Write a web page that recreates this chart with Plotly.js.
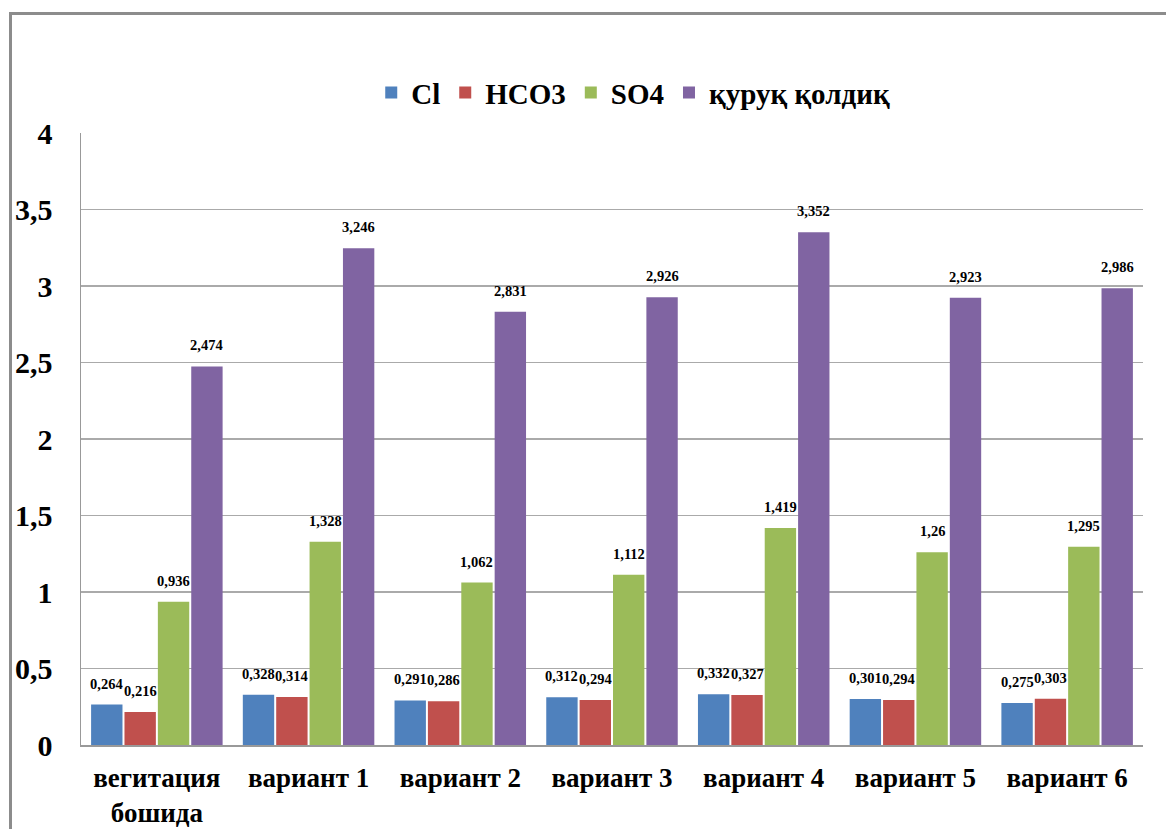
<!DOCTYPE html>
<html>
<head>
<meta charset="utf-8">
<script src="https://cdn.plot.ly/plotly-3.0.1.min.js"></script>
<style>
  html, body { margin: 0; padding: 0; background: #fff; overflow: hidden; }
  #frame { position: absolute; left: 9px; top: 12px; width: 1200px; height: 900px; border: 3px solid #8c8c8c; box-sizing: border-box; pointer-events: none; z-index: 5; }
  #chart { width: 1166px; height: 829px; }
</style>
</head>
<body>
<div id="frame"></div>
<div id="chart"></div>
<script>
const categories = ['вегитация<br>бошида', 'вариант 1', 'вариант 2', 'вариант 3', 'вариант 4', 'вариант 5', 'вариант 6'];
const seriesNames = ['Cl', 'HCO3', 'SO4', 'қуруқ қолдиқ'];
const cl    = [0.264, 0.328, 0.291, 0.312, 0.332, 0.301, 0.275];
const hco3  = [0.216, 0.314, 0.286, 0.294, 0.327, 0.294, 0.303];
const so4   = [0.936, 1.328, 1.062, 1.112, 1.419, 1.26, 1.295];
const quruq = [2.474, 3.246, 2.831, 2.926, 3.352, 2.923, 2.986];
const yTickVals = [0, 0.5, 1, 1.5, 2, 2.5, 3, 3.5, 4];
const yTickText = ['0', '0,5', '1', '1,5', '2', '2,5', '3', '3,5', '4'];
const colors = ['#4F81BD', '#C0504D', '#9BBB59', '#8064A2'];

const serif = 'Liberation Serif';
const allSeries = [cl, hco3, so4, quruq];
const traces = allSeries.map((vals, i) => ({
  type: 'bar',
  name: seriesNames[i],
  x: categories,
  y: vals,
  marker: { color: colors[i] },
  hoverinfo: 'x+y'
}));

// value labels, placed via the axes (category + value), shifted to each bar's slot
const plotW = 1166 - 81 - 23;
const groupW = plotW / categories.length;
const slotW = groupW * (1 - 0.12) / 4;
const annotations = [];
allSeries.forEach((vals, i) => {
  vals.forEach((v, j) => {
    annotations.push({
      x: categories[j], y: v, xref: 'x', yref: 'y',
      text: String(v).replace('.', ','),
      showarrow: false, xanchor: 'center', yanchor: 'bottom',
      xshift: (i - 1.5) * slotW, yshift: 11,
      font: { family: serif, size: 14.5, color: '#000', weight: 700 }
    });
  });
});

const layout = {
  width: 1166, height: 829,
  margin: { l: 81, r: 23, t: 133, b: 84 },
  paper_bgcolor: '#fff', plot_bgcolor: '#fff',
  barmode: 'group',
  bargap: 0.12,
  bargroupgap: 0.06,
  showlegend: true,
  annotations: annotations,
  legend: {
    orientation: 'h', x: 0.52, xanchor: 'center', y: 1.066, yanchor: 'middle',
    font: { family: serif, size: 29, color: '#000', weight: 700 },
    itemwidth: 30, tracegroupgap: 0
  },
  xaxis: {
    showline: true, linecolor: '#999', linewidth: 1.5,
    ticks: '', showgrid: false,
    tickfont: { family: serif, size: 27, color: '#000', weight: 700 },
    ticklabelstandoff: 8
  },
  yaxis: {
    range: [0, 4],
    tickvals: yTickVals, ticktext: yTickText,
    showline: true, linecolor: '#999', linewidth: 1.5,
    showgrid: true, gridcolor: '#aaaaaa', gridwidth: 1.5,
    zeroline: false, ticks: '',
    tickfont: { family: serif, size: 30, color: '#000', weight: 700 },
    ticklabelstandoff: 21
  }
};

Plotly.newPlot('chart', traces, layout, { displayModeBar: false, staticPlot: true });
</script>
</body>
</html>
